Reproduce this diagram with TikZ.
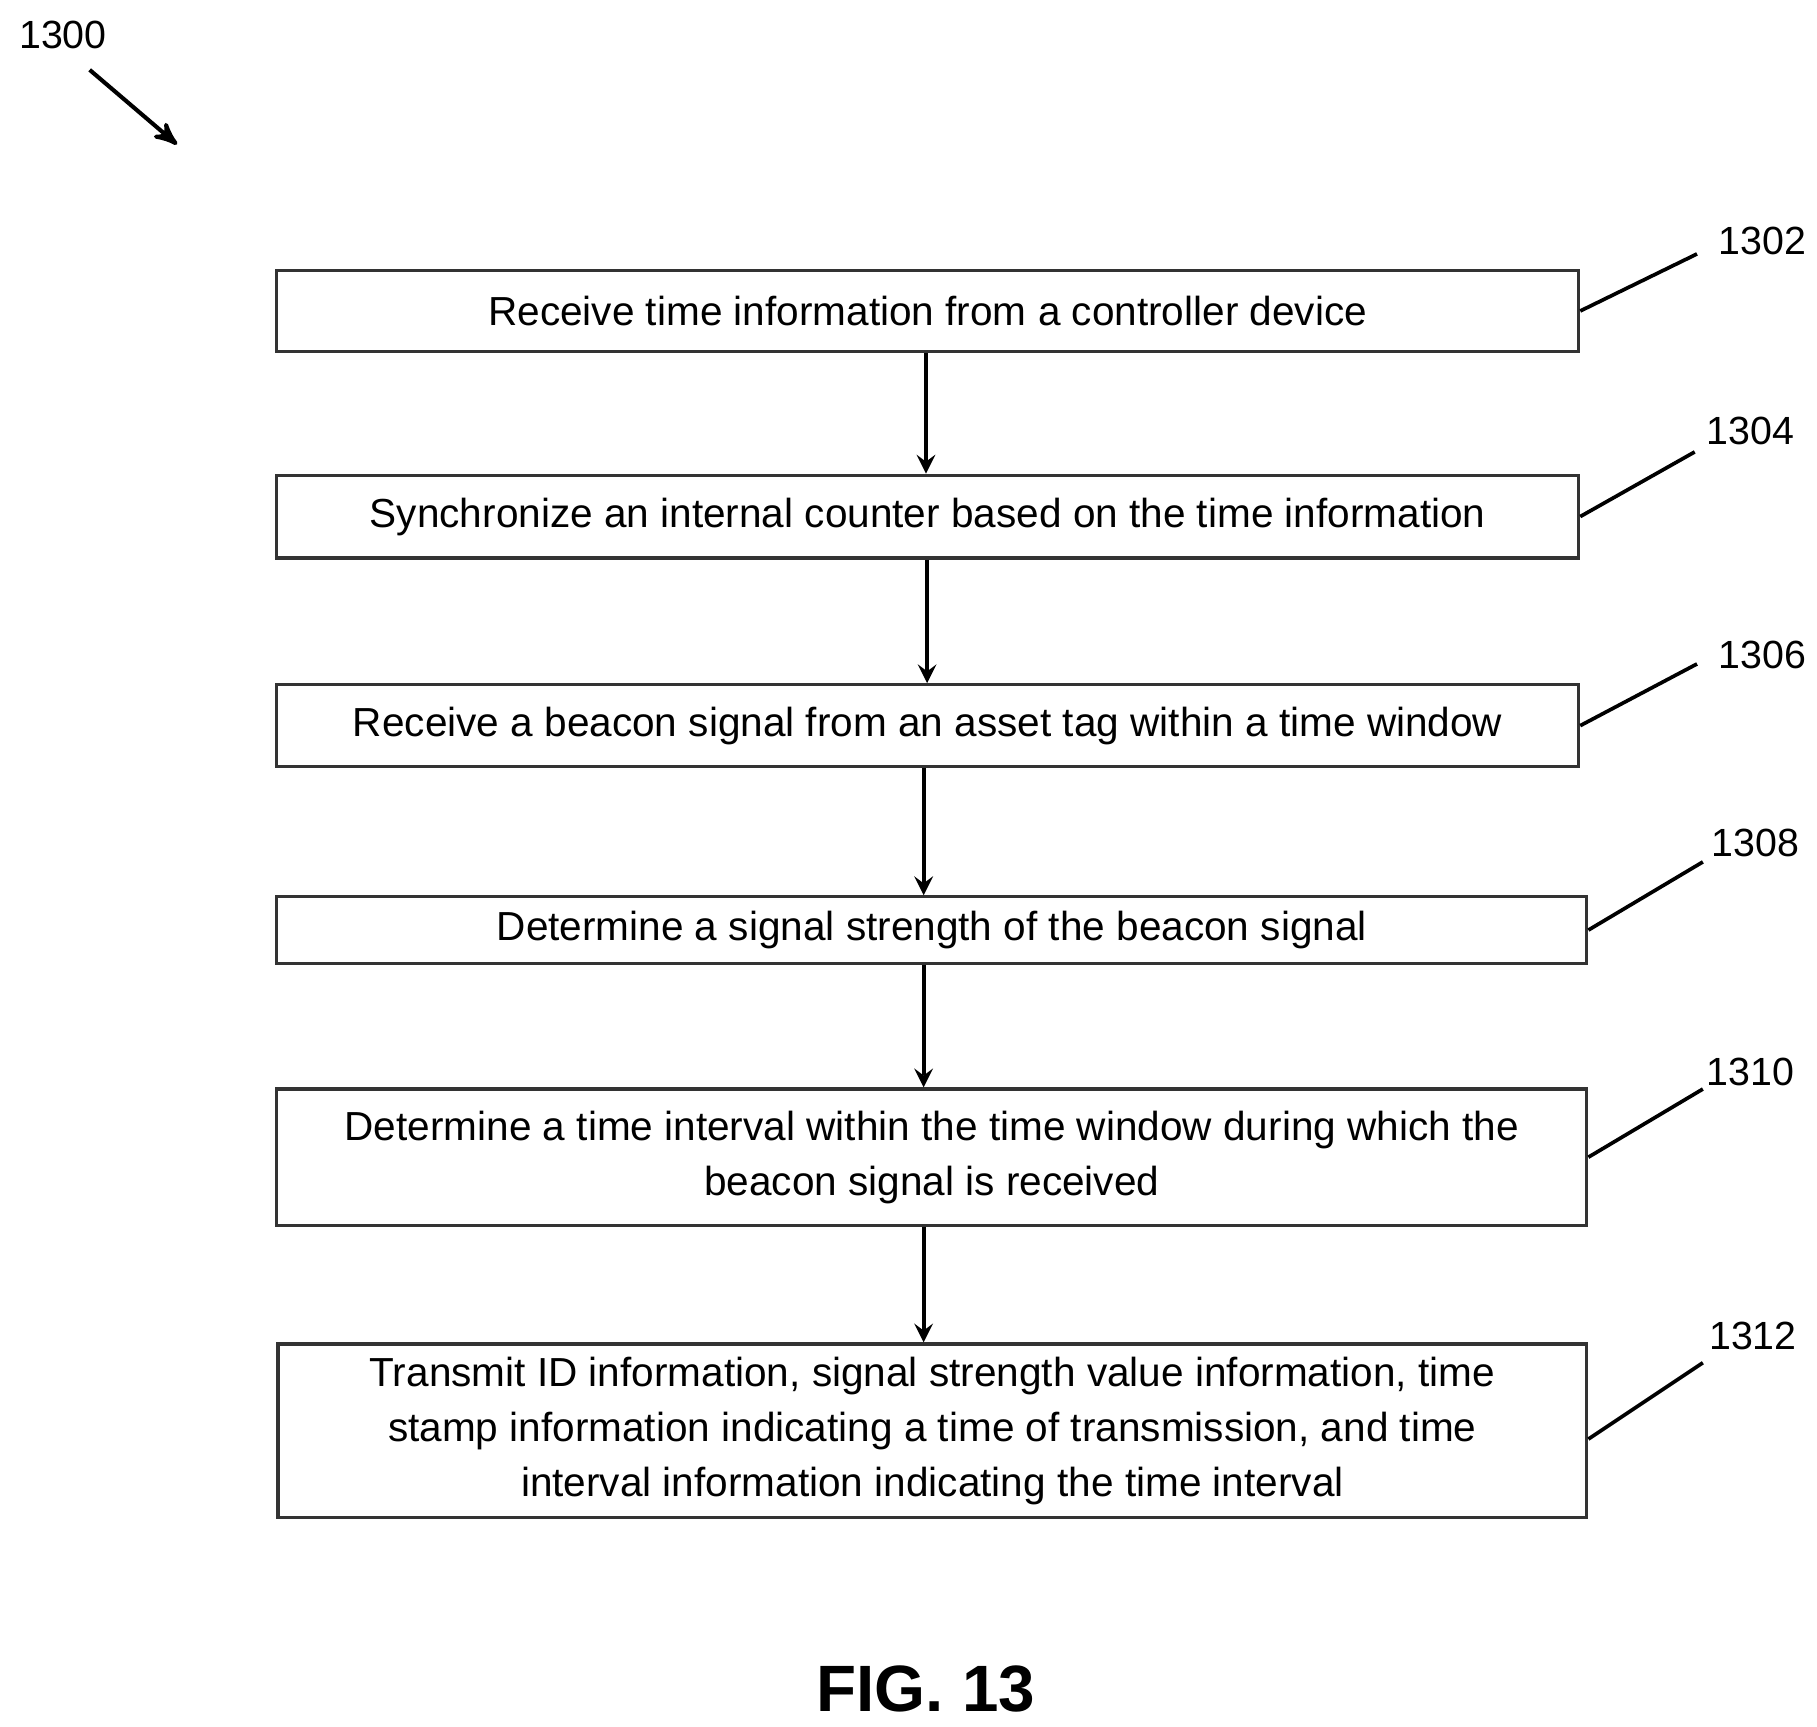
\documentclass[tikz,border=0pt]{standalone}
\usepackage{fontspec}
\setmainfont{Liberation Sans}
\usetikzlibrary{arrows,positioning,calc}

\begin{document}
\begin{tikzpicture}[x=0.01cm,y=-0.01cm,
    stepbox/.style={rectangle, draw=black!80, line width=0.8pt, align=center, font=\fontsize{9.9}{13.5}\selectfont, inner sep=0pt},
    ref/.style={font=\fontsize{9.6}{11}\selectfont},
    arrow/.style={->, >=stealth, line width=1pt},
    leader/.style={line width=0.9pt},
]
\useasboundingbox (0,0) rectangle (1560,1482);

% Flow steps
\node[stepbox, minimum width=11.17cm, minimum height=0.70cm] (s1302) at (796.5,267) {Receive time information from a controller device};
\node[stepbox, minimum width=11.17cm, minimum height=0.71cm] (s1304) at (796.5,443.5) {Synchronize an internal counter based on the time information};
\node[stepbox, minimum width=11.17cm, minimum height=0.70cm] (s1306) at (796.5,623) {Receive a beacon signal from an asset tag within a time window};
\node[stepbox, minimum width=11.24cm, minimum height=0.57cm] (s1308) at (800,798.5) {Determine a signal strength of the beacon signal};
\node[stepbox, minimum width=11.24cm, minimum height=1.17cm] (s1310) at (800,993.5) {Determine a time interval within the time window during which the\\beacon signal is received};
\node[stepbox, minimum width=11.23cm, minimum height=1.49cm] (s1312) at (800.5,1228.5) {Transmit ID information, signal strength value information, time\\stamp information indicating a time of transmission, and time\\interval information indicating the time interval};

% Arrows between steps
\draw[arrow] (s1302.south -| 795,0) -- (s1304.north -| 795,0);
\draw[arrow] (s1304.south -| 796,0) -- (s1306.north -| 796,0);
\draw[arrow] (s1306.south -| 793,0) -- (s1308.north -| 793,0);
\draw[arrow] (s1308.south -| 793,0) -- (s1310.north -| 793,0);
\draw[arrow] (s1310.south -| 793,0) -- (s1312.north -| 793,0);

% Reference numerals
\node[ref] (r1302) at (1513,207) {1302};
\node[ref] (r1304) at (1503,370) {1304};
\node[ref] (r1306) at (1513,562) {1306};
\node[ref] (r1308) at (1507,724) {1308};
\node[ref] (r1310) at (1503,920) {1310};
\node[ref] (r1312) at (1505,1147) {1312};
\coordinate (c1302) at (1457,218);
\coordinate (c1304) at (1455,388);
\coordinate (c1306) at (1457,570);
\coordinate (c1308) at (1462,740);
\coordinate (c1310) at (1462,935);
\coordinate (c1312) at (1462,1170);
\draw[leader] (s1302.east) -- (c1302);
\draw[leader] (s1304.east) -- (c1304);
\draw[leader] (s1306.east) -- (c1306);
\draw[leader] (s1308.east) -- (c1308);
\draw[leader] (s1310.east) -- (c1310);
\draw[leader] (s1312.east) ++(0,-2pt) -- (c1312);

% Figure number
\node[ref] (r1300) at (54,30) {1300};
\coordinate (a1300) at (77,60);
\coordinate (c1300) at (152,124);
\draw[arrow, >=stealth'] (a1300) -- (c1300);
\node[font=\fontsize{16}{20}\selectfont\bfseries] (fig) at (795,1450) {FIG. 13};
\end{tikzpicture}
\end{document}
